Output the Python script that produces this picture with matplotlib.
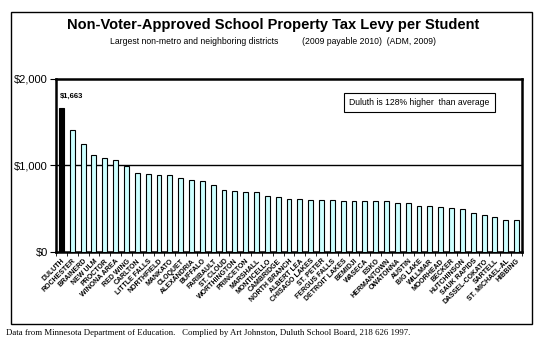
import numpy as np
import matplotlib
matplotlib.use("Agg")
import matplotlib.pyplot as plt
from matplotlib.patches import Rectangle
from matplotlib.ticker import FuncFormatter

# District names and levy per student
districts = [
    "DULUTH", "ROCHESTER", "BRAINERD", "NEW ULM", "PROCTOR", "WINONA AREA",
    "RED WING", "CARLTON", "LITTLE FALLS", "NORTHFIELD", "MANKATO", "CLOQUET",
    "ALEXANDRIA", "BUFFALO", "FARIBAULT", "ST. CLOUD", "WORTHINGTON",
    "PRINCETON", "MARSHALL", "MONTICELLO", "CAMBRIDGE", "NORTH BRANCH",
    "ALBERT LEA", "CHISAGO LAKES", "ST. PETER", "FERGUS FALLS",
    "DETROIT LAKES", "BEMIDJI", "WASECA", "ESKO", "HERMANTOWN", "OWATONNA",
    "AUSTIN", "BIG LAKE", "WILLMAR", "MOORHEAD", "BECKER", "HUTCHINSON",
    "SAUK RAPIDS", "DASSEL-COKATO", "SARTELL", "ST. MICHAEL-AL", "HIBBING",
]
levy = [
    1663, 1410, 1249, 1123, 1088, 1065, 996, 916, 904, 893, 893, 858,
    835, 824, 778, 720, 709, 697, 697, 651, 640, 617, 617, 605, 605, 605,
    594, 586, 586, 586, 586, 571, 571, 536, 536, 525, 513, 502, 456, 433,
    410, 375, 375,
]
yticks = [0, 1000, 2000]

W, H = 546, 342
fig = plt.figure(figsize=(W / 100, H / 100), dpi=100)
fig.patch.set_facecolor("white")

# outer frame of the chart
fig.patches.append(Rectangle((11 / W, (H - 324) / H), (532 - 11) / W, (324 - 12) / H,
                             transform=fig.transFigure, fill=False,
                             edgecolor="black", linewidth=1.0))

ax = fig.add_axes([56 / W, (H - 252) / H, (522 - 56) / W, (252 - 79) / H])
x = np.arange(len(districts))
colors = ["black"] + ["#CCFFFF"] * (len(districts) - 1)
ax.bar(x, levy, width=0.45, color=colors, edgecolor="black", linewidth=0.8, zorder=3)
ax.axhline(1000, color="black", linewidth=1.0, zorder=2)

ax.set_xlim(-0.5, len(districts) - 0.5)
ax.set_ylim(0, 2000)
ax.set_yticks(yticks)
ax.yaxis.set_major_formatter(FuncFormatter(lambda v, p: "${:,.0f}".format(v)))
ax.tick_params(axis="y", labelsize=8, length=4, width=0.8, pad=2)
for lbl in ax.get_yticklabels():
    lbl.set_fontfamily("Liberation Sans")

ax.set_xticks(x)
ax.set_xticklabels(districts, rotation=45, ha="right", va="top",
                   rotation_mode="anchor", fontsize=5, fontweight="bold",
                   fontfamily="Liberation Sans")
ax.tick_params(axis="x", length=0, pad=4)
ax.set_xticks(np.arange(-0.5, len(districts), 1), minor=True)
ax.tick_params(axis="x", which="minor", length=3, width=0.6)

for s in ax.spines.values():
    s.set_linewidth(1.8)

ax.text(x[0] - 0.1, levy[0] + 100, "${:,}".format(levy[0]), fontsize=5.5,
        fontweight="bold", fontfamily="Liberation Sans", va="bottom", ha="left")
ax.text(0.78, 0.865, "Duluth is 128% higher  than average", transform=ax.transAxes,
        fontsize=6.2, fontfamily="Liberation Sans", ha="center", va="center",
        bbox=dict(boxstyle="square,pad=0.6", facecolor="white", edgecolor="black",
                  linewidth=0.8))

fig.text(0.5, 1 - 25 / H, "Non-Voter-Approved School Property Tax Levy per Student",
         ha="center", va="center", fontsize=10.5, fontweight="bold",
         fontfamily="Liberation Sans")
fig.text(0.5, 1 - 41 / H,
         "Largest non-metro and neighboring districts          (2009 payable 2010)  (ADM, 2009)",
         ha="center", va="center", fontsize=6.2, fontfamily="Liberation Sans")
fig.text(6 / W, 1 - 333 / H,
         "Data from Minnesota Department of Education.   Complied by Art Johnston, Duluth School Board, 218 626 1997.",
         ha="left", va="center", fontsize=6.3, fontfamily="Liberation Serif")

fig.savefig("out.png", dpi=100)
